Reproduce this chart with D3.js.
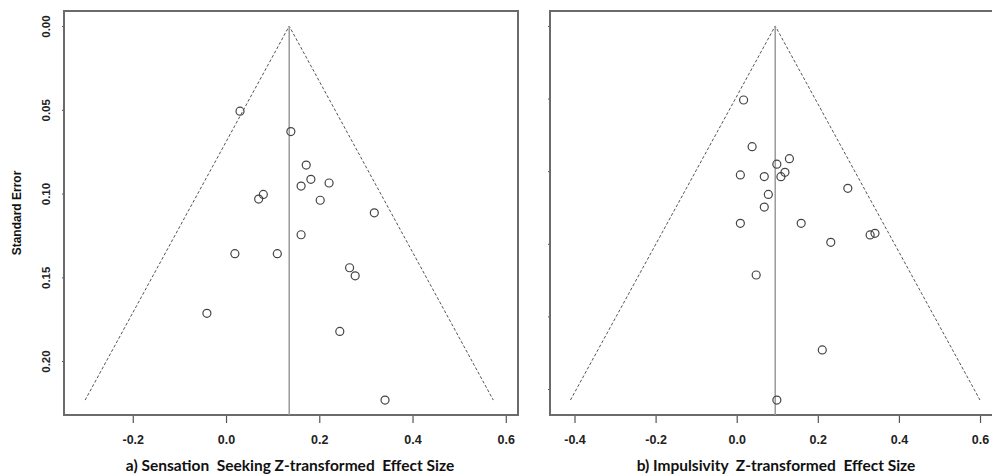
<!DOCTYPE html>
<html>
<head>
<meta charset="utf-8">
<script src="https://cdn.jsdelivr.net/npm/d3@7"></script>
<style>
  body { margin: 0; background: #fff; }
  svg { display: block; }
</style>
</head>
<body>
<div id="chart"></div>
<script>
// a) Sensation seeking: effect size (z) and standard error
const ssEffect = [0.030, 0.139, 0.172, 0.182, 0.161, 0.221, 0.202, 0.080, 0.070, 0.318,
  0.161, 0.019, 0.110, 0.265, 0.277, -0.041, 0.244, 0.341];
const ssSE = [0.0508, 0.0630, 0.0830, 0.0915, 0.0955, 0.0937, 0.1040, 0.1005, 0.1033, 0.1115,
  0.1246, 0.1359, 0.1359, 0.1443, 0.1491, 0.1715, 0.1823, 0.2233];
const ssCenter = 0.1355;

// b) Impulsivity
const imEffect = [0.017, 0.038, 0.009, 0.068, 0.099, 0.130, 0.119, 0.109, 0.078, 0.068,
  0.009, 0.159, 0.274, 0.232, 0.329, 0.341, 0.048, 0.211, 0.099];
const imSE = [0.0510, 0.0831, 0.1026, 0.1037, 0.0952, 0.0914, 0.1008, 0.1038, 0.1160, 0.1247,
  0.1359, 0.1359, 0.1118, 0.1490, 0.1439, 0.1428, 0.1715, 0.2231, 0.2576];
const imCenter = 0.095;

const xTicks = [-0.4, -0.2, 0.0, 0.2, 0.4, 0.6];
const seTicks = [0.00, 0.05, 0.10, 0.15, 0.20, 0.25];

const width = 992;
const height = 475;

// plain hyphen instead of d3's unicode minus
const fmtX = d => d3.format(".1f")(d).replace("\u2212", "-");

const svg = d3.select("#chart")
  .append("svg")
  .attr("width", width)
  .attr("height", height);

const panels = [
  {
    effect: ssEffect, se: ssSE, center: ssCenter,
    left: 64, right: 518, xDomain: [-0.3475, 0.6262],
    yDomain: [-0.009, 0.2322], ticks: xTicks.filter(t => t > -0.3),
    yLabels: true, titleX: 290,
    title: "a) Sensation  Seeking Z-transformed  Effect Size"
  },
  {
    effect: imEffect, se: imSE, center: imCenter,
    left: 550, right: 996, xDomain: [-0.4604, 0.6394],
    yDomain: [-0.0103, 0.2679], ticks: xTicks,
    yLabels: false, titleX: 776,
    title: "b) Impulsivity  Z-transformed  Effect Size"
  }
];

const plotTop = 11;
const plotBottom = 415;

panels.forEach(p => {

  const x = d3.scaleLinear().domain(p.xDomain).range([p.left, p.right]);
  const y = d3.scaleLinear().domain(p.yDomain).range([plotTop, plotBottom]);

  const g = svg.append("g");

  // x axis
  const xAxis = g.append("g")
    .attr("transform", `translate(0, ${plotBottom})`)
    .call(d3.axisBottom(x).tickValues(p.ticks).tickSize(8).tickFormat(fmtX));
  xAxis.select(".domain").remove();
  xAxis.selectAll("line").style("stroke", "#555").style("stroke-width", 1.2);
  xAxis.selectAll("text")
    .attr("y", 20)
    .attr("dy", "0.71em")
    .style("font-family", "Liberation Sans, Arial, sans-serif")
    .style("font-size", "12.5px")
    .style("font-weight", "bold")
    .style("fill", "#222");

  // y axis
  const yTickVals = seTicks.filter(t => t <= p.yDomain[1]);
  const yAxis = g.append("g")
    .attr("transform", `translate(${p.left}, 0)`)
    .call(d3.axisLeft(y).tickValues(yTickVals).tickSize(2)
      .tickFormat(p.yLabels ? d3.format(".2f") : ""));
  yAxis.select(".domain").remove();
  yAxis.selectAll("line").style("stroke", "#555");
  yAxis.selectAll("text")
    .attr("x", 0)
    .attr("y", -14)
    .attr("dy", 0)
    .attr("transform", "rotate(-90)")
    .style("text-anchor", "middle")
    .style("font-family", "Liberation Sans, Arial, sans-serif")
    .style("font-size", "11.5px")
    .style("font-weight", "bold")
    .style("fill", "#222");

  // frame
  g.append("rect")
    .attr("x", p.left)
    .attr("y", plotTop)
    .attr("width", p.right - p.left)
    .attr("height", plotBottom - plotTop)
    .style("fill", "none")
    .style("stroke", "#6b6b6b")
    .style("stroke-width", 2);

  // funnel
  const seMax = d3.max(p.se);
  const funnel = [
    [p.center - 1.96 * seMax, seMax],
    [p.center, 0],
    [p.center + 1.96 * seMax, seMax]
  ];
  g.append("path")
    .attr("d", d3.line().x(d => x(d[0])).y(d => y(d[1]))(funnel))
    .style("fill", "none")
    .style("stroke", "#555")
    .style("stroke-width", 1)
    .style("stroke-dasharray", "3,2");

  // pooled estimate
  g.append("line")
    .attr("x1", x(p.center))
    .attr("x2", x(p.center))
    .attr("y1", y(0))
    .attr("y2", plotBottom)
    .style("stroke", "#9a9a9a")
    .style("stroke-width", 1.5);

  // studies
  g.selectAll(".study")
    .data(d3.range(p.effect.length))
    .enter()
    .append("circle")
    .attr("class", "study")
    .attr("cx", i => x(p.effect[i]))
    .attr("cy", i => y(p.se[i]))
    .attr("r", 4)
    .style("fill", "none")
    .style("stroke", "#444")
    .style("stroke-width", 1.2);

  // title
  g.append("text")
    .attr("x", p.titleX)
    .attr("y", 471)
    .attr("text-anchor", "middle")
    .style("font-family", "Lato, 'Open Sans', sans-serif")
    .style("font-size", "15.5px")
    .style("font-weight", "bold")
    .style("fill", "#111")
    .style("white-space", "pre")
    .text(p.title);
});

svg.append("text")
  .attr("transform", "translate(21, 213) rotate(-90)")
  .attr("text-anchor", "middle")
  .style("font-family", "Liberation Sans, Arial, sans-serif")
  .style("font-size", "12px")
  .style("font-weight", "bold")
  .style("fill", "#111")
  .text("Standard Error");
</script>
</body>
</html>
